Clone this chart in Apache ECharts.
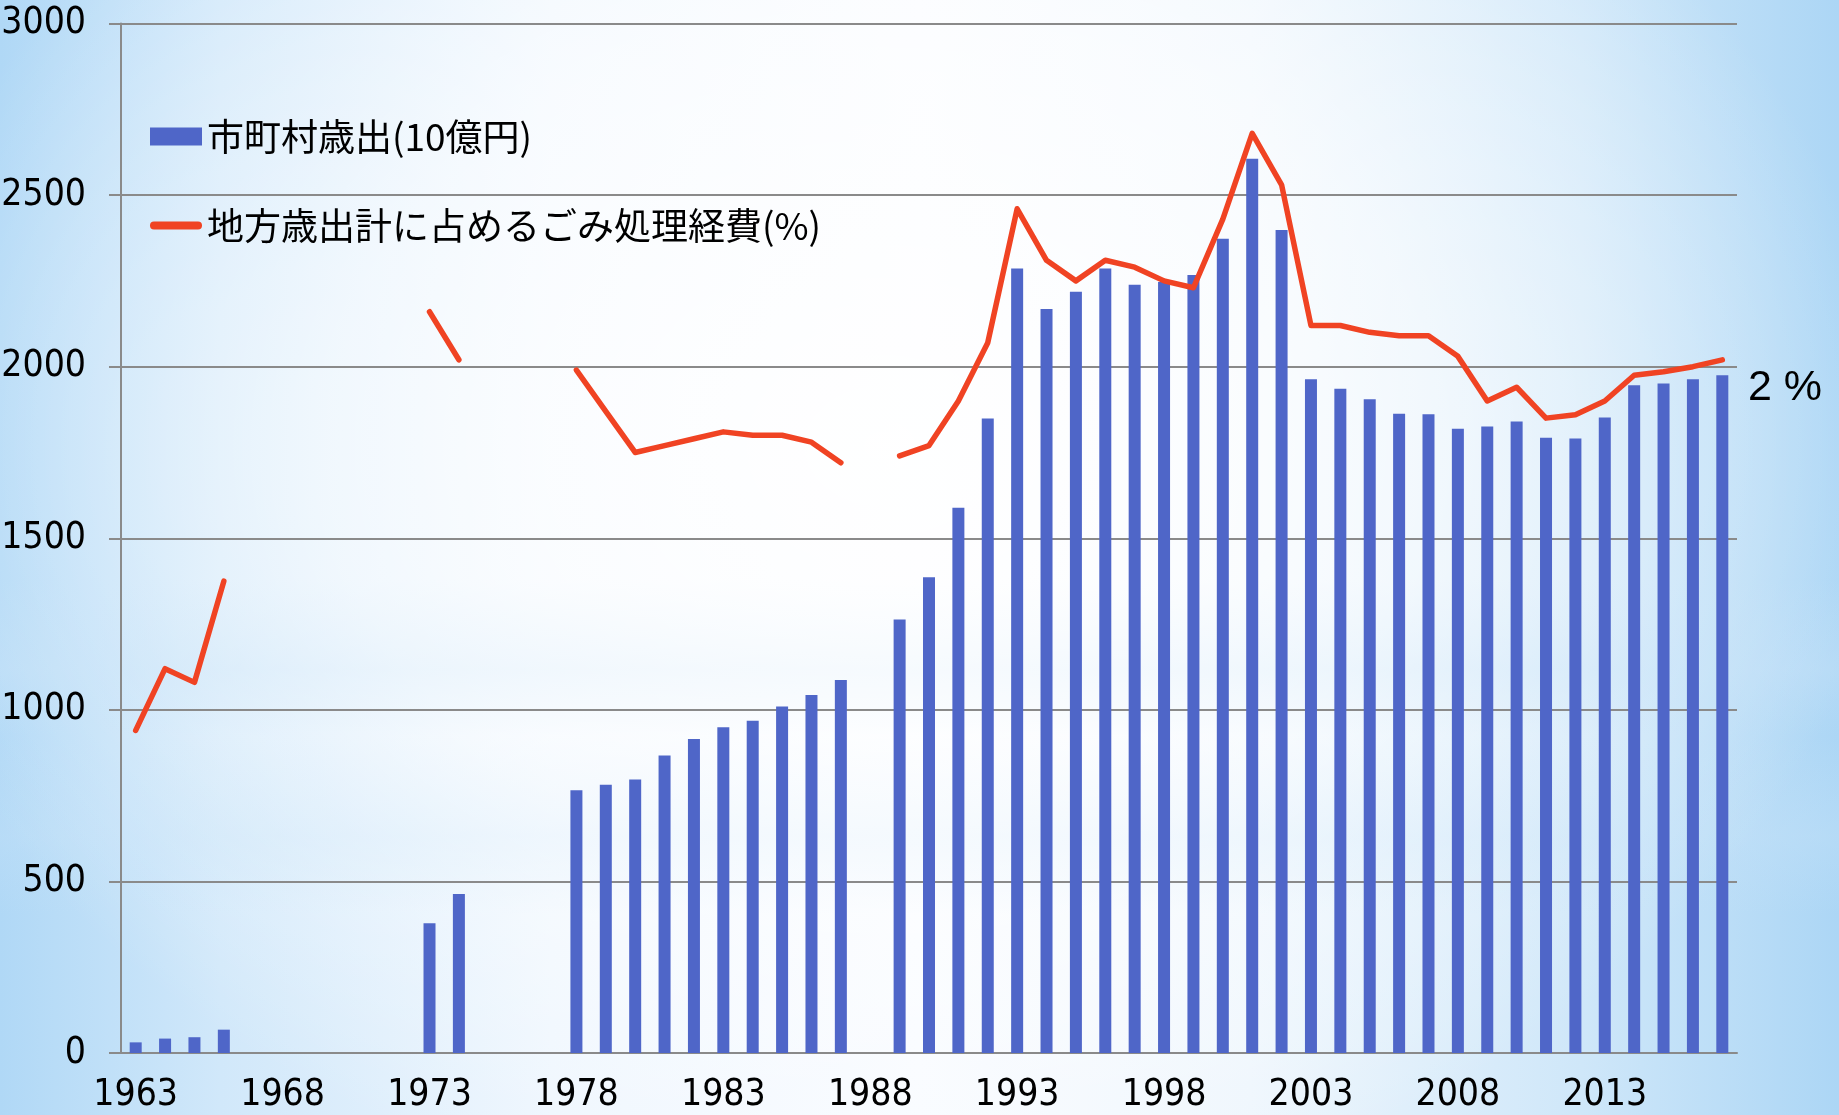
<!DOCTYPE html>
<html>
<head>
<meta charset="utf-8">
<script src="https://cdn.jsdelivr.net/npm/echarts@6/dist/echarts.min.js"></script>
<style>
  html, body { margin: 0; padding: 0; }
  #chart {
    width: 1839px;
    height: 1115px;
    background:
      radial-gradient(ellipse 55% 70% at 48% 40%, rgba(255,255,255,0.95) 0%, rgba(255,255,255,0.6) 55%, rgba(255,255,255,0) 100%),
      linear-gradient(to bottom, rgba(255,255,255,0) 52%, rgba(190,222,247,0.55) 60%, rgba(255,255,255,0) 66%, rgba(195,225,248,0.4) 75%, rgba(255,255,255,0) 82%),
      linear-gradient(to right, #b0d8f6 0%, #d1e8fa 12%, #eef6fe 30%, #f8fbff 50%, #eef6fd 68%, #cfe7f9 86%, #acd6f5 100%);
  }
</style>
</head>
<body>
<div id="chart"></div>
<script>
// 年度
const years = [
  '1963', '1964', '1965', '1966', '1967', '1968', '1969', '1970', '1971', '1972',
  '1973', '1974', '1975', '1976', '1977', '1978', '1979', '1980', '1981', '1982',
  '1983', '1984', '1985', '1986', '1987', '1988', '1989', '1990', '1991', '1992',
  '1993', '1994', '1995', '1996', '1997', '1998', '1999', '2000', '2001', '2002',
  '2003', '2004', '2005', '2006', '2007', '2008', '2009', '2010', '2011', '2012',
  '2013', '2014', '2015', '2016', '2017'
]
// 市町村歳出(10億円)
const spending = [
  31, 42, 46, 68, null, null, null, null, null, null,
  378, 463, null, null, null, 766, 782, 797, 867, 915,
  949, 968, 1010, 1043, 1087, null, 1263, 1386, 1589, 1849,
  2286, 2168, 2218, 2286, 2239, 2247, 2267, 2373, 2606, 2398,
  1963, 1936, 1905, 1863, 1861, 1819, 1826, 1840, 1793, 1791,
  1852, 1946, 1951, 1963, 1975
]
// 地方歳出計に占めるごみ処理経費(%)
const wasteShare = [
  0.94, 1.12, 1.08, 1.375, null, null, null, null, null, null,
  2.16, 2.02, null, null, null, 1.99, 1.87, 1.75, 1.77, 1.79,
  1.81, 1.80, 1.80, 1.78, 1.72, null, 1.74, 1.77, 1.90, 2.07,
  2.46, 2.31, 2.25, 2.31, 2.29, 2.25, 2.23, 2.43, 2.68, 2.53,
  2.12, 2.12, 2.10, 2.09, 2.09, 2.03, 1.90, 1.94, 1.85, 1.86,
  1.90, 1.975, 1.985, 2.00, 2.02
]

const axisGray = '#8a8a8a'
const numFont = '"DejaVu Sans Condensed", "Liberation Sans Narrow", sans-serif'

let chart = echarts.init(document.getElementById('chart'))
chart.setOption({
  animation: false,
  grid: { left: 121, right: 102, top: 23.5, bottom: 62, outerBoundsMode: 'none', containLabel: false },
  legend: {
    orient: 'vertical',
    left: 145,
    top: 113,
    itemWidth: 52,
    itemHeight: 18,
    itemGap: 52,
    textStyle: {
      fontSize: 37,
      color: '#000',
      fontFamily: '"Noto Sans CJK JP", sans-serif'
    },
    data: [
      { name: '市町村歳出(10億円)', icon: 'rect' },
      { name: '地方歳出計に占めるごみ処理経費(%)', icon: 'path://M4,0 H48 A4,4 0 0 1 48,8 H4 A4,4 0 0 1 4,0 Z' }
    ]
  },
  xAxis: {
    type: 'category',
    data: years,
    boundaryGap: true,
    axisLine: { lineStyle: { color: axisGray, width: 2 } },
    axisTick: { interval: 0, length: 12, lineStyle: { color: axisGray, width: 2 } },
    axisLabel: {
      interval: 4,
      margin: 24,
      fontSize: 37,
      color: '#000',
      fontFamily: numFont
    }
  },
  yAxis: [
    {
      type: 'value',
      min: 0,
      max: 3000,
      interval: 500,
      axisLine: { show: true, lineStyle: { color: axisGray, width: 2 } },
      axisTick: { show: true, length: 12, lineStyle: { color: axisGray, width: 2 } },
      splitLine: { lineStyle: { color: axisGray, width: 2 } },
      axisLabel: {
        margin: 35,
        fontSize: 37,
        color: '#000',
        fontFamily: numFont,
        formatter: function (value) {
          return String(value)
        }
      }
    },
    {
      type: 'value',
      min: 0,
      max: 3,
      show: false
    }
  ],
  series: [
    {
      name: '市町村歳出(10億円)',
      type: 'bar',
      data: spending,
      barWidth: 12,
      itemStyle: { color: '#4f66c8' }
    },
    {
      name: '地方歳出計に占めるごみ処理経費(%)',
      type: 'line',
      yAxisIndex: 1,
      data: wasteShare,
      symbol: 'none',
      connectNulls: false,
      lineStyle: { color: '#f04323', width: 5.5, cap: 'round', join: 'round' },
      itemStyle: { color: '#f04323' }
    }
  ],
  graphic: [
    {
      type: 'text',
      left: 1748,
      top: 367,
      style: {
        text: '2 %',
        fontSize: 43,
        fill: '#000',
        fontFamily: '"Liberation Sans", Arial, sans-serif'
      }
    }
  ]
})
window.addEventListener('resize', function () {
  chart.resize()
})
</script>
</body>
</html>
